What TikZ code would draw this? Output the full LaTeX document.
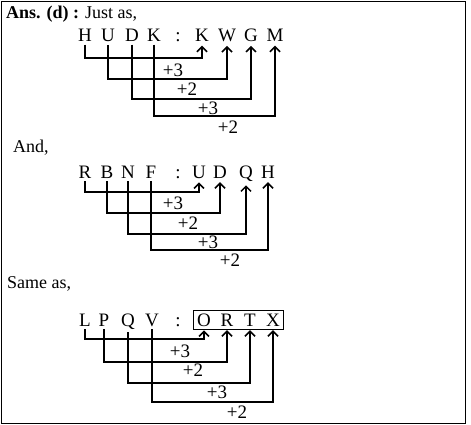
\documentclass[tikz,border=0pt]{standalone}
\usepackage{fontspec}
\setmainfont{Liberation Serif}
\usetikzlibrary{arrows.meta,fit}
\begin{document}
\begin{tikzpicture}[x=1pt,y=-1pt,
  lt/.style={inner sep=0pt,anchor=base,font=\fontsize{19}{22}\selectfont},
  lab/.style={inner sep=0pt,font=\fontsize{19}{22}\selectfont},
  head/.style={inner sep=0pt,anchor=base west,font=\fontsize{18}{22}\selectfont},
  conn/.style={line width=1.5pt,-{Straight Barb[length=5pt,width=10pt,line width=1.5pt]}}]
\useasboundingbox (0,0) rectangle (471,425);
\draw[line width=1pt] (1.5,1.5) rectangle (465,423);
% headings
\node[head] (h1) at (6,19) {\textbf{Ans. (d) :} Just as,};
\node[head] (h2) at (13,153) {And,};
\node[head] (h3) at (7,288) {Same as,};
% ---------- section 1
\foreach \n/\x/\t in {a1/85/H,a2/108/U,a3/132/D,a4/154/K,ac/178/:,b1/202/K,b2/227/W,b3/251/G,b4/275/M}
  \node[lt] (\n) at (\x,41.5) {\t};
\foreach \i/\y in {1/58,2/79,3/99,4/116}
  \coordinate (la\i) at (0,\y);
\foreach \i in {1,...,4}
  \draw[conn] ([yshift=-3pt]a\i.south) -- (a\i.south |- la\i) -| ([yshift=-4pt]b\i.south);
\node[lab] (pa1) at (173,70) {+3};
\node[lab] (pa2) at (187,89) {+2};
\node[lab] (pa3) at (208,108) {+3};
\node[lab] (pa4) at (228,127) {+2};
% ---------- section 2
\foreach \n/\x/\t in {c1/85/R,c2/107/B,c3/128/N,c4/151/F,cc/178/:,d1/199/U,d2/220/D,d3/246/Q,d4/268/H}
  \node[lt] (\n) at (\x,178) {\t};
\foreach \i/\y in {1/192,2/213,3/234,4/250}
  \coordinate (lc\i) at (0,\y);
\foreach \i in {1,...,4}
  \draw[conn] ([yshift=-3pt]c\i.south) -- (c\i.south |- lc\i) -| ([yshift=-4pt]d\i.south);
\node[lab] (pc1) at (173,203) {+3};
\node[lab] (pc2) at (188,223) {+2};
\node[lab] (pc3) at (208,242) {+3};
\node[lab] (pc4) at (230,260) {+2};
% ---------- section 3
\foreach \n/\x/\t in {e1/85/L,e2/104/P,e3/128/Q,e4/152/V,ec/178/:,f1/204/O,f2/227/R,f3/250/T,f4/273/X}
  \node[lt] (\n) at (\x,326) {\t};
\node[draw,line width=1pt,inner xsep=3pt,inner ysep=3pt,fit=(f1)(f4)] (box) {};
\foreach \i/\y in {1/339,2/362,3/383,4/402}
  \coordinate (le\i) at (0,\y);
\foreach \i in {1,...,4}
  \draw[conn] ([yshift=-3pt]e\i.south) -- (e\i.south |- le\i) -| ([yshift=-4pt]f\i.south);
\node[lab] (pe1) at (180,351) {+3};
\node[lab] (pe2) at (193,370) {+2};
\node[lab] (pe3) at (217,392) {+3};
\node[lab] (pe4) at (237,412) {+2};
\end{tikzpicture}
\end{document}
